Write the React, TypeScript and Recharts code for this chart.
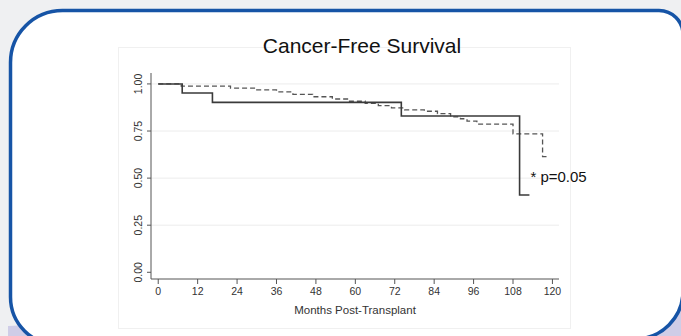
import React from 'react';
import { CartesianGrid, Line, LineChart, ReferenceDot, XAxis, YAxis } from 'recharts';

// Kaplan-Meier steps
const solidMonths = [0, 7.3, 16.5, 74, 110, 113];
const solidSurvival = [1.0, 0.952, 0.902, 0.83, 0.41, 0.41];

const dashedMonths = [0, 7, 22, 30, 36, 41, 47, 53, 58, 63, 67, 71, 75, 81, 85, 89, 92, 94, 97, 108, 117, 119];
const dashedSurvival = [
  1.0, 0.988, 0.978, 0.968, 0.958, 0.945, 0.932, 0.92, 0.908, 0.897, 0.885, 0.873, 0.862, 0.855, 0.842, 0.825,
  0.815, 0.803, 0.787, 0.735, 0.614, 0.614,
];

const xTicks = [0, 12, 24, 36, 48, 60, 72, 84, 96, 108, 120];
const yTicks = [0, 0.25, 0.5, 0.75, 1];
const gridValues = [0.25, 0.5, 0.75, 1];

const title = 'Cancer-Free Survival';
const xLabel = 'Months Post-Transplant';
const pLabel = '* p=0.05';

const solidData = solidMonths.map((month, i) => ({ month, survival: solidSurvival[i] }));
const dashedData = dashedMonths.map((month, i) => ({ month, survival: dashedSurvival[i] }));

const FONT = '"Liberation Sans", Arial, sans-serif';

const YTick = (props: any) => {
  const { x, y, payload } = props;
  return (
    <text
      x={x}
      y={y}
      transform={`rotate(-90 ${x} ${y})`}
      textAnchor="middle"
      fontSize={10.5}
      fontFamily={FONT}
      fill="#333"
    >
      {Number(payload.value).toFixed(2)}
    </text>
  );
};

const renderPLabel = (props: any) => {
  const { viewBox } = props;
  return (
    <text x={viewBox.x} y={viewBox.y} fontSize={15} fontFamily={FONT} fill="#111">
      {pLabel}
    </text>
  );
};

const App: React.FC = () => {
  return (
    <div style={{ position: 'absolute', left: 0, top: 0, width: 681, height: 336, overflow: 'hidden' }}>
      <svg width={681} height={336} style={{ position: 'absolute', left: 0, top: 0 }}>
        <rect x={0} y={0} width={681} height={336} fill="#eff0f2" />
        <polygon points="8,336 8,326 681,296 681,336" fill="#cfcde7" />
        <path
          d="M 10.5 62.5 A 52 52 0 0 1 62.5 10.5 L 659 10.5 A 24 24 0 0 1 683 34.5 L 683 291 A 48 48 0 0 1 635 339 L 58.5 345 A 48 48 0 0 1 10.5 297 Z"
          fill="#ffffff"
          stroke="#1654a6"
          strokeWidth={3.5}
        />
        <rect x={118.5} y={47.5} width={452} height={281} fill="none" stroke="#f0f0f0" />
        <text x={362} y={52.5} textAnchor="middle" fontSize={21} fontFamily={FONT} fill="#111">
          {title}
        </text>
      </svg>
      <div style={{ position: 'absolute', left: 0, top: 0 }}>
        <LineChart width={681} height={336} margin={{ top: 73, right: 122, bottom: 17, left: 111 }}>
          <CartesianGrid vertical={false} horizontalValues={gridValues} stroke="#ececec" />
          <XAxis
            dataKey="month"
            type="number"
            domain={[-2.2, 122]}
            ticks={xTicks}
            interval={0}
            allowDataOverflow
            height={40}
            tickSize={5}
            tickMargin={4}
            stroke="#555"
            tick={{ fill: '#333', fontSize: 10.5, fontFamily: FONT }}
            label={{ value: xLabel, position: 'insideBottom', offset: 5, fill: '#333', fontSize: 11.5, fontFamily: FONT }}
          />
          <YAxis
            type="number"
            domain={[-0.0356, 1.058]}
            ticks={yTicks}
            interval={0}
            allowDataOverflow
            width={40}
            tickSize={4}
            tickMargin={5}
            stroke="#555"
            tick={<YTick />}
          />
          <Line
            data={dashedData}
            dataKey="survival"
            type="stepAfter"
            stroke="#555"
            strokeWidth={1.3}
            strokeDasharray="5 3"
            dot={false}
            activeDot={false}
            isAnimationActive={false}
          />
          <Line
            data={solidData}
            dataKey="survival"
            type="stepAfter"
            stroke="#3a3a3a"
            strokeWidth={1.6}
            dot={false}
            activeDot={false}
            isAnimationActive={false}
          />
          <ReferenceDot x={113.3} y={0.481} r={0} fill="none" stroke="none" label={renderPLabel} />
        </LineChart>
      </div>
    </div>
  );
};

export default App;
